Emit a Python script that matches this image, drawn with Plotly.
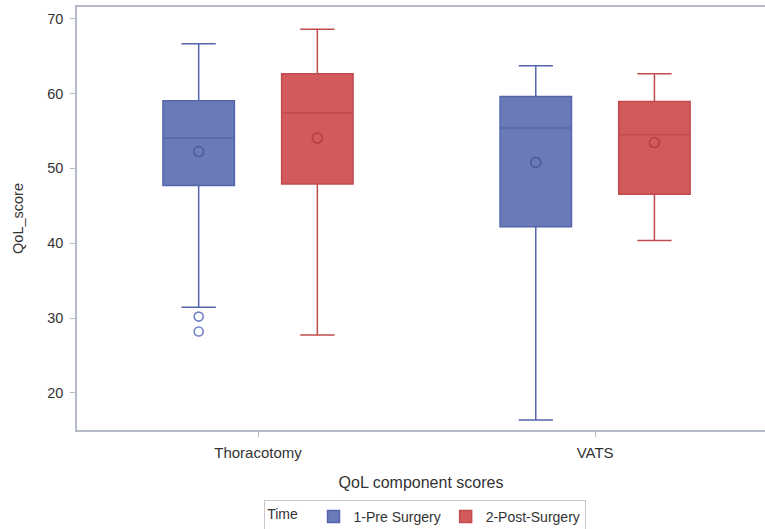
import plotly.graph_objects as go

categories = ["Thoracotomy", "VATS"]
series_names = ["1-Pre Surgery", "2-Post-Surgery"]

pre_q1 = [47.7, 42.2]
pre_median = [54.05, 55.4]
pre_q3 = [59.05, 59.6]
pre_lower = [31.45, 16.4]
pre_upper = [66.65, 63.7]
pre_mean = [52.25, 50.8]

post_q1 = [47.9, 46.55]
post_median = [57.4, 54.5]
post_q3 = [62.65, 58.95]
post_lower = [27.75, 40.35]
post_upper = [68.6, 62.65]
post_mean = [54.05, 53.45]

pre_outlier_cats = ["Thoracotomy", "Thoracotomy"]
pre_outlier_vals = [30.2, 28.2]

y_ticks = [20, 30, 40, 50, 60, 70]

font_family = "Liberation Sans, Arial, sans-serif"
text_color = "#333333"
axis_color = "#B4BAC6"

pre_fill = "#6A7AB6"
pre_line = "#5465AC"
pre_mark = "#4B5BA2"
post_fill = "#D35A5A"
post_line = "#C24A4E"
post_mark = "#B4403F"

fig = go.Figure()

fig.add_trace(go.Box(
    name=series_names[0], x=categories, offsetgroup="pre",
    q1=pre_q1, median=pre_median, q3=pre_q3,
    lowerfence=pre_lower, upperfence=pre_upper,
    fillcolor=pre_fill, line=dict(color=pre_line, width=1.5),
    whiskerwidth=0.48, boxpoints=False, hoverinfo="skip",
))
fig.add_trace(go.Box(
    name=series_names[1], x=categories, offsetgroup="post",
    q1=post_q1, median=post_median, q3=post_q3,
    lowerfence=post_lower, upperfence=post_upper,
    fillcolor=post_fill, line=dict(color=post_line, width=1.5),
    whiskerwidth=0.48, boxpoints=False, hoverinfo="skip",
))

fig.add_trace(go.Scatter(
    x=categories, y=pre_mean, mode="markers", offsetgroup="pre",
    marker=dict(symbol="circle-open", size=10, color=pre_mark, line=dict(width=1.6)),
    showlegend=False, hoverinfo="skip",
))
fig.add_trace(go.Scatter(
    x=categories, y=post_mean, mode="markers", offsetgroup="post",
    marker=dict(symbol="circle-open", size=10, color=post_mark, line=dict(width=1.6)),
    showlegend=False, hoverinfo="skip",
))
fig.add_trace(go.Scatter(
    x=pre_outlier_cats, y=pre_outlier_vals, mode="markers", offsetgroup="pre",
    marker=dict(symbol="circle-open", size=9, color="#6F80C2", line=dict(width=1.6)),
    showlegend=False, hoverinfo="skip",
))

fig.update_layout(
    width=765, height=529,
    margin=dict(l=77, r=0, t=7, b=99, autoexpand=False),
    paper_bgcolor="white", plot_bgcolor="white",
    font=dict(family=font_family, color=text_color, size=14),
    boxmode="group", boxgap=0.296, boxgroupgap=0.398,
    scattermode="group", scattergap=0.296,
    showlegend=True,
    legend=dict(
        orientation="h", x=0.506, xanchor="center", y=-0.165, yanchor="top",
        bordercolor="#C8C8C8", borderwidth=1, bgcolor="white",
        title=dict(text="Time  ", side="left", font=dict(size=14)),
        font=dict(size=14), itemwidth=30, tracegroupgap=0, valign="middle",
    ),
    xaxis=dict(
        type="category", categoryorder="array", categoryarray=categories,
        range=[-0.537, 1.504], automargin=False,
        showline=True, linecolor=axis_color, linewidth=1.5, mirror=True,
        ticks="outside", ticklen=5, tickcolor=axis_color,
        tickfont=dict(size=15), ticklabelstandoff=3,
        showgrid=False, zeroline=False,
        title=dict(text="QoL component scores", font=dict(size=16), standoff=17),
    ),
    yaxis=dict(
        range=[15.05, 71.56], tickvals=y_ticks, automargin=False,
        showline=True, linecolor=axis_color, linewidth=1.5,
        ticks="outside", ticklen=5, tickcolor=axis_color,
        tickfont=dict(size=14.5), ticklabelstandoff=4,
        showgrid=False, zeroline=False,
        title=dict(text="QoL_score", font=dict(size=14.5), standoff=20),
    ),
)

fig.write_html("out.html", config={"displayModeBar": False},
               post_script="document.body.style.margin='0';")
